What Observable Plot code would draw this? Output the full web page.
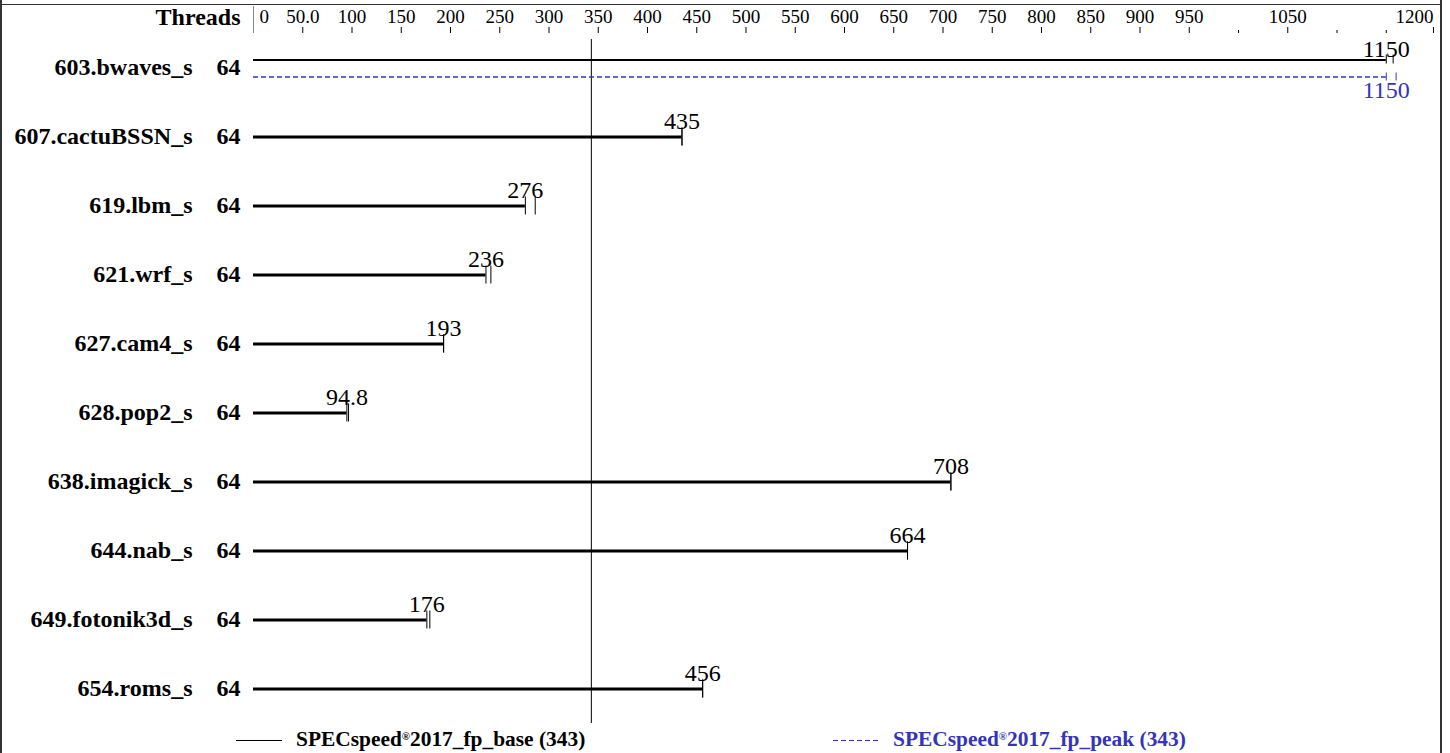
<!DOCTYPE html>
<html><head><meta charset="utf-8">
<script src="https://cdn.jsdelivr.net/npm/d3@7"></script>
<script src="https://cdn.jsdelivr.net/npm/@observablehq/plot@0.6"></script>
<style>
body{margin:0;background:#fff;}
#wrap{position:relative;width:1450px;height:753px;overflow:hidden;font-family:"Liberation Serif","Times New Roman",serif;background:#fff;}
.bd{position:absolute;background:#333;}
#legend{position:absolute;left:0;top:728px;width:1450px;height:25px;}
.lt{position:absolute;top:1px;font-weight:bold;font-size:21.4px;line-height:21px;white-space:nowrap;}
.lt sup{font-size:11px;vertical-align:6px;line-height:0;}
#chart svg text{font-family:"Liberation Serif","Times New Roman",serif;}
</style></head>
<body>
<div id="wrap">
  <div id="chart"></div>
  <div id="legend">
    <svg style="position:absolute;left:0;top:0" width="1450" height="25">
      <line x1="236" x2="282" y1="12.5" y2="12.5" stroke="#000" stroke-width="1"/>
      <line x1="833" x2="878" y1="12.5" y2="12.5" stroke="#3333bb" stroke-width="1" stroke-dasharray="5,3"/>
    </svg>
    <span class="lt" style="left:296px;color:#000">SPECspeed<sup>®</sup>2017_fp_base (343)</span>
    <span class="lt" style="left:893px;color:#3333bb">SPECspeed<sup>®</sup>2017_fp_peak (343)</span>
  </div>
  <div class="bd" style="left:0;top:0;width:2px;height:753px"></div>
  <div class="bd" style="left:1440px;top:0;width:2px;height:753px"></div>
  <div class="bd" style="left:0;top:4px;width:1442px;height:1px"></div>
</div>
<script>
const benchmarks = ["603.bwaves_s","607.cactuBSSN_s","619.lbm_s","621.wrf_s","627.cam4_s","628.pop2_s","638.imagick_s","644.nab_s","649.fotonik3d_s","654.roms_s"];
const threads = [64,64,64,64,64,64,64,64,64,64];
const baseRatio = [1150,435,276,236,193,94.8,708,664,176,456];
const baseRunHigh = [1157,435,286,241,193,96.5,708,664,179,456];
const peakBenchmarks = ["603.bwaves_s"];
const peakRatio = [1150];
const peakRunHigh = [1160];
const baseMean = 343;
const labeledTicks = [50,100,150,200,250,300,350,400,450,500,550,600,650,700,750,800,850,900,950,1050];
const endTick = [1200];
const zeroTick = [0];
const minorTicks = [1000,1100,1150];

const serif = "Liberation Serif";
const blue = "#3333bb";
const rows = benchmarks.map((name,i)=>({name, threads: threads[i], value: baseRatio[i], hi: baseRunHigh[i]}));
const dual = rows.filter(d => peakBenchmarks.includes(d.name));
const single = rows.filter(d => !peakBenchmarks.includes(d.name));
const peak = peakBenchmarks.map((name,i)=>({name, value: peakRatio[i], hi: peakRunHigh[i]}));
const fmtTick = d => d === 50 ? "50.0" : String(d);

const chart = Plot.plot({
  width: 1450,
  height: 728,
  marginLeft: 253,
  marginRight: 15,
  marginTop: 32,
  marginBottom: 5,
  style: {fontFamily: serif, fontSize: "19px", background: "transparent", color: "#000"},
  x: {domain: [0,1200], range: [253,1435], label: null},
  y: {type: "band", domain: benchmarks, range: [32.5,722.5], padding: 0, axis: null, label: null},
  marks: [
    Plot.axisX(zeroTick, {anchor: "top", tickSize: 27, tickFormat: () => "", stroke: "#888", label: null}),
    Plot.axisX(zeroTick, {anchor: "top", tickSize: 0, tickPadding: 10, tickFormat: fmtTick, textAnchor: "start", dx: 6, fontSize: 19, fontFamily: serif, label: null}),
    Plot.axisX(labeledTicks, {anchor: "top", tickSize: 6, tickPadding: 4, tickFormat: fmtTick, fontSize: 19, fontFamily: serif, label: null}),
    Plot.axisX(endTick, {anchor: "top", tickSize: 6, tickPadding: 4, tickFormat: fmtTick, textAnchor: "end", dx: -2, fontSize: 19, fontFamily: serif, label: null}),
    Plot.axisX(minorTicks, {anchor: "top", tickSize: 3, tickFormat: () => "", label: null}),
    Plot.text(["Threads"], {frameAnchor: "top-left", dx: -13, dy: -8, textAnchor: "end", lineAnchor: "bottom", fontWeight: "bold", fontSize: 24, fontFamily: serif}),
    Plot.text(rows, {y: "name", text: "name", frameAnchor: "left", dx: -61, dy: -1, textAnchor: "end", fontWeight: "bold", fontSize: 24, fontFamily: serif}),
    Plot.text(rows, {y: "name", text: d => String(d.threads), frameAnchor: "left", dx: -13, dy: -1, textAnchor: "end", fontWeight: "bold", fontSize: 24, fontFamily: serif}),
    Plot.ruleX(rows, {x: 0, y: "name", insetTop: 7, insetBottom: 7, strokeWidth: 2}),
    Plot.ruleX([baseMean], {x: d => d, insetTop: 7, strokeWidth: 1}),
    Plot.ruleY(single, {x1: 0, x2: "value", y: "name", strokeWidth: 3}),
    Plot.ruleY(dual, {x1: 0, x2: "value", y: "name", dy: -8, strokeWidth: 2}),
    Plot.ruleY(peak, {x1: 0, x2: "value", y: "name", dy: 9, stroke: blue, strokeWidth: 1.5, strokeDasharray: "5,3"}),
    Plot.tickX(single, {x: "value", y: "name", insetTop: 25.5, insetBottom: 25.5, strokeWidth: 1}),
    Plot.tickX(single, {x: "hi", y: "name", insetTop: 25.5, insetBottom: 25.5, strokeWidth: 1}),
    Plot.tickX(dual, {x: "value", y: "name", insetTop: 21.5, insetBottom: 38.5, strokeWidth: 1}),
    Plot.tickX(dual, {x: "hi", y: "name", insetTop: 21.5, insetBottom: 38.5, strokeWidth: 1}),
    Plot.tickX(peak, {x: "value", y: "name", insetTop: 39.5, insetBottom: 21.5, stroke: blue, strokeWidth: 1}),
    Plot.tickX(peak, {x: "hi", y: "name", insetTop: 39.5, insetBottom: 21.5, stroke: blue, strokeWidth: 1}),
    Plot.text(single, {x: "value", y: "name", text: d => String(d.value), dy: -16, fontSize: 24, fontFamily: serif}),
    Plot.text(dual, {x: "value", y: "name", text: d => String(d.value), dy: -19, fontSize: 24, fontFamily: serif}),
    Plot.text(peak, {x: "value", y: "name", text: d => String(d.value), dy: 22, fontSize: 24, fontFamily: serif, fill: blue})
  ]
});
document.getElementById("chart").appendChild(chart);
</script>
</body></html>
